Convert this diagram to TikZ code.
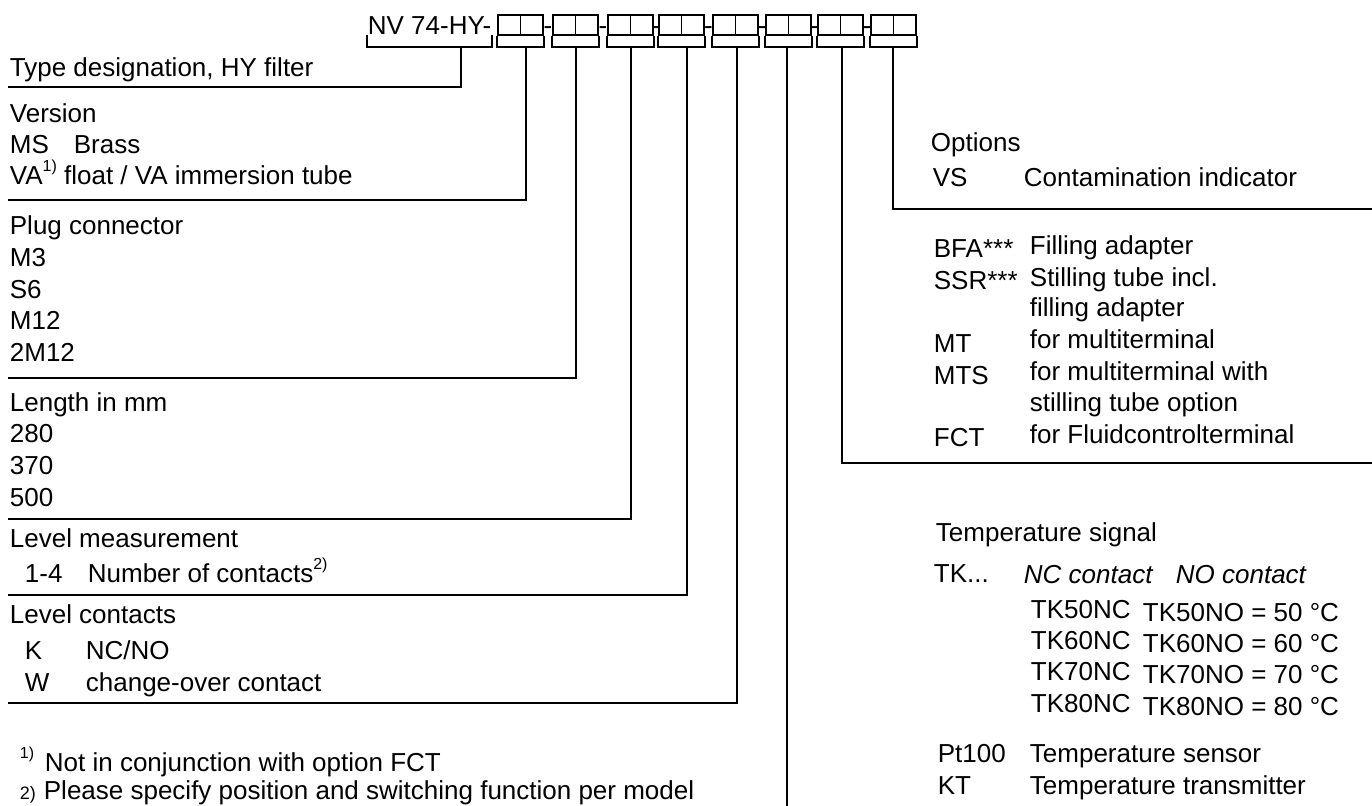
\documentclass[tikz,border=0pt]{standalone}
\usepackage{fontspec}
\setmainfont{Liberation Sans}
\usepackage{tikz}
\usetikzlibrary{positioning}
\pgfdeclarelayer{nodelayer}
\pgfdeclarelayer{edgelayer}
\pgfsetlayers{edgelayer,nodelayer,main}
\tikzstyle{none}=[inner sep=0pt]
\tikzstyle{txt}=[inner sep=0pt, anchor=base west, font=\fontsize{13}{15}\selectfont]
\tikzstyle{hyph}=[inner sep=0pt, anchor=base, font=\fontsize{13}{15}\selectfont]
\tikzstyle{cell}=[draw, line width=0.8pt, minimum width=11.25pt, minimum height=10pt, inner sep=0pt]
\tikzset{every path/.append style={line width=0.9pt}}
\newcommand{\fnup}[1]{\raisebox{0.5em}{\fontsize{8}{8}\selectfont #1}}

\begin{document}
\begin{tikzpicture}[x=0.5pt, y=-0.5pt]
    \useasboundingbox (0, 0) rectangle (1372, 806);
    			\begin{pgfonlayer}{nodelayer}
    				% type code
    				\node [style=txt] (0) at (367, 35) {NV 74-HY-};
    				\node [style=cell] (10) at (509.25, 25) {};
    				\node [style=cell] (11) at (531.75, 25) {};
    				\node [style=hyph] (1) at (548, 35) {-};
    				\node [style=cell] (12) at (564.25, 25) {};
    				\node [style=cell] (13) at (586.75, 25) {};
    				\node [style=hyph] (2) at (603, 35) {-};
    				\node [style=cell] (14) at (619.25, 25) {};
    				\node [style=cell] (15) at (641.75, 25) {};
    				\node [style=hyph] (3) at (656, 35) {-};
    				\node [style=cell] (16) at (670.25, 25) {};
    				\node [style=cell] (17) at (692.75, 25) {};
    				\node [style=hyph] (4) at (708.5, 35) {-};
    				\node [style=cell] (18) at (724.25, 25) {};
    				\node [style=cell] (19) at (746.75, 25) {};
    				\node [style=hyph] (5) at (762, 35) {-};
    				\node [style=cell] (20) at (777.25, 25) {};
    				\node [style=cell] (21) at (799.75, 25) {};
    				\node [style=hyph] (6) at (814.5, 35) {-};
    				\node [style=cell] (22) at (829.25, 25) {};
    				\node [style=cell] (23) at (851.75, 25) {};
    				\node [style=hyph] (7) at (867, 35) {-};
    				\node [style=cell] (24) at (882.25, 25) {};
    				\node [style=cell] (25) at (904.75, 25) {};
    				% bracket ends and stems
    				\node [style=none] (30) at (367, 35) {};
    				\node [style=none] (31) at (492, 35) {};
    				\node [style=none] (40) at (461, 47) {};
    				\node [style=none] (41) at (526, 47) {};
    				\node [style=none] (42) at (576, 47) {};
    				\node [style=none] (43) at (631, 47) {};
    				\node [style=none] (44) at (687, 47) {};
    				\node [style=none] (45) at (737, 47) {};
    				\node [style=none] (46) at (787, 47) {};
    				\node [style=none] (47) at (842, 47) {};
    				\node [style=none] (48) at (893, 47) {};
    				\node [style=none] (50) at (8, 87) {};
    				\node [style=none] (51) at (8, 200) {};
    				\node [style=none] (52) at (8, 378) {};
    				\node [style=none] (53) at (8, 519) {};
    				\node [style=none] (54) at (8, 595) {};
    				\node [style=none] (55) at (8, 703) {};
    				\node [style=none] (56) at (787, 806) {};
    				\node [style=none] (57) at (1372, 463) {};
    				\node [style=none] (58) at (1372, 209) {};
    				% left column
    				\node [style=txt] (60) at (9, 77) {Type designation, HY filter};
    				\node [style=txt] (61) at (9, 123) {Version};
    				\node [style=txt] (62) at (9, 154) {MS};
    				\node [style=txt] (63) at (73, 154) {Brass};
    				\node [style=txt] (64) at (9, 185) {VA\fnup{1)} float / VA immersion tube};
    				\node [style=txt] (65) at (9, 235) {Plug connector};
    				\node [style=txt] (66) at (9, 267) {M3};
    				\node [style=txt] (67) at (9, 299) {S6};
    				\node [style=txt] (68) at (9, 330) {M12};
    				\node [style=txt] (69) at (9, 362) {2M12};
    				\node [style=txt] (70) at (9, 412) {Length in mm};
    				\node [style=txt] (71) at (9, 443) {280};
    				\node [style=txt] (72) at (9, 475) {370};
    				\node [style=txt] (73) at (9, 507) {500};
    				\node [style=txt] (74) at (9, 548) {Level measurement};
    				\node [style=txt] (75) at (24, 583) {1-4};
    				\node [style=txt] (76) at (87, 583) {Number of contacts\fnup{2)}};
    				\node [style=txt] (77) at (9, 624) {Level contacts};
    				\node [style=txt] (78) at (24, 660) {K};
    				\node [style=txt] (79) at (85, 660) {NC/NO};
    				\node [style=txt] (80) at (24, 692) {W};
    				\node [style=txt] (81) at (85, 692) {change-over contact};
    				\node [style=txt] (82) at (19, 772) {\fnup{1)}};
    				\node [style=txt] (83) at (44, 772) {Not in conjunction with option FCT};
    				\node [style=txt] (84) at (19, 800) {\fontsize{9}{9}\selectfont 2)};
    				\node [style=txt] (85) at (43, 800) {Please specify position and switching function per model};
    				% right column
    				\node [style=txt] (86) at (930, 152) {Options};
    				\node [style=txt] (87) at (932, 187) {VS};
    				\node [style=txt] (88) at (1023, 187) {Contamination indicator};
    				\node [style=txt] (89) at (933, 258) {BFA***};
    				\node [style=txt] (90) at (1029, 255) {Filling adapter};
    				\node [style=txt] (91) at (933, 290) {SSR***};
    				\node [style=txt] (92) at (1029, 287) {Stilling tube incl.};
    				\node [style=txt] (93) at (1029, 317) {filling adapter};
    				\node [style=txt] (94) at (933, 353) {MT};
    				\node [style=txt] (95) at (1029, 349) {for multiterminal};
    				\node [style=txt] (96) at (933, 385) {MTS};
    				\node [style=txt] (97) at (1029, 381) {for multiterminal with};
    				\node [style=txt] (98) at (1029, 412) {stilling tube option};
    				\node [style=txt] (99) at (933, 447) {FCT};
    				\node [style=txt] (100) at (1029, 444) {for Fluidcontrolterminal};
    				\node [style=txt] (101) at (935, 542) {Temperature signal};
    				\node [style=txt] (102) at (933, 583) {TK...};
    				\node [style=txt] (103) at (1023, 584) {\itshape NC contact};
    				\node [style=txt] (104) at (1175, 584) {\itshape NO contact};
    				\node [style=txt] (105) at (1030, 619) {TK50NC};
    				\node [style=txt] (106) at (1142, 622) {TK50NO = 50 °C};
    				\node [style=txt] (107) at (1030, 650) {TK60NC};
    				\node [style=txt] (108) at (1142, 653) {TK60NO = 60 °C};
    				\node [style=txt] (109) at (1030, 681) {TK70NC};
    				\node [style=txt] (110) at (1142, 684) {TK70NO = 70 °C};
    				\node [style=txt] (111) at (1030, 713) {TK80NC};
    				\node [style=txt] (112) at (1142, 716) {TK80NO = 80 °C};
    				\node [style=txt] (113) at (937, 763) {Pt100};
    				\node [style=txt] (114) at (1029, 763) {Temperature sensor};
    				\node [style=txt] (115) at (937, 795) {KT};
    				\node [style=txt] (116) at (1029, 795) {Temperature transmitter};
    			\end{pgfonlayer}
    			\begin{pgfonlayer}{edgelayer}
    				% brackets
    				\draw (30.center) |- (40.center) -| (31.center);
    				\draw (10.south west) |- (41.center) -| (11.south east);
    				\draw (12.south west) |- (42.center) -| (13.south east);
    				\draw (14.south west) |- (43.center) -| (15.south east);
    				\draw (16.south west) |- (44.center) -| (17.south east);
    				\draw (18.south west) |- (45.center) -| (19.south east);
    				\draw (20.south west) |- (46.center) -| (21.south east);
    				\draw (22.south west) |- (47.center) -| (23.south east);
    				\draw (24.south west) |- (48.center) -| (25.south east);
    				% leader lines
    				\draw (40.center) |- (50.center);
    				\draw (41.center) |- (51.center);
    				\draw (42.center) |- (52.center);
    				\draw (43.center) |- (53.center);
    				\draw (44.center) |- (54.center);
    				\draw (45.center) |- (55.center);
    				\draw (46.center) to (56.center);
    				\draw (47.center) |- (57.center);
    				\draw (48.center) |- (58.center);
    			\end{pgfonlayer}
    		\end{tikzpicture}
\end{document}
